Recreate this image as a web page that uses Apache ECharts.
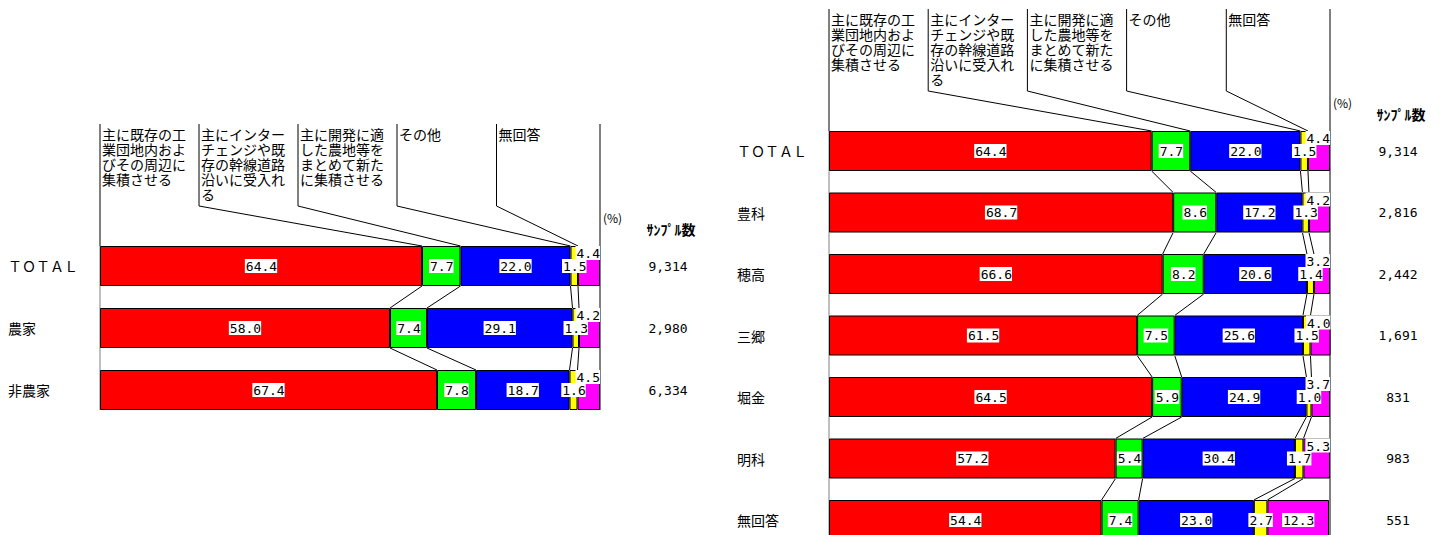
<!DOCTYPE html>
<html>
<head>
<meta charset="utf-8">
<script src="https://cdn.jsdelivr.net/npm/echarts@6.0.0/dist/echarts.min.js"></script>
<style>
html,body{margin:0;padding:0;background:#fff;}
#chart{width:1442px;height:535px;}
</style>
</head>
<body>
<div id="chart"></div>
<script>
// ---- data ----
const answerLabels = [
  '主に既存の工\n業団地内およ\nびその周辺に\n集積させる',
  '主にインター\nチェンジや既\n存の幹線道路\n沿いに受入れ\nる',
  '主に開発に適\nした農地等を\nまとめて新た\nに集積させる',
  'その他',
  '無回答'
];
const colors = ['#FF0000', '#00FF00', '#0000FF', '#FFFF00', '#FF00FF'];

const leftCats = ['ＴＯＴＡＬ', '農家', '非農家'];
const leftRed = [64.4, 58.0, 67.4];
const leftGreen = [7.7, 7.4, 7.8];
const leftBlue = [22.0, 29.1, 18.7];
const leftYellow = [1.5, 1.3, 1.6];
const leftMagenta = [4.4, 4.2, 4.5];
const leftCounts = ['9,314', '2,980', '6,334'];

const rightCats = ['ＴＯＴＡＬ', '豊科', '穂高', '三郷', '堀金', '明科', '無回答'];
const rightRed = [64.4, 68.7, 66.6, 61.5, 64.5, 57.2, 54.4];
const rightGreen = [7.7, 8.6, 8.2, 7.5, 5.9, 5.4, 7.4];
const rightBlue = [22.0, 17.2, 20.6, 25.6, 24.9, 30.4, 23.0];
const rightYellow = [1.5, 1.3, 1.4, 1.5, 1.0, 1.7, 2.7];
const rightMagenta = [4.4, 4.2, 3.2, 4.0, 3.7, 5.3, 12.3];
const rightCounts = ['9,314', '2,816', '2,442', '1,691', '831', '983', '551'];

// ---- layout ----
const headerColPct = [0, 19.8, 39.6, 59.4, 79.3];
const BAR_W = 40;
const CJK = '"Noto Sans CJK JP", sans-serif';
const MONO = '"DejaVu Sans Mono", monospace';

const labelBase = {
  show: true,
  color: '#000',
  backgroundColor: '#fff',
  padding: [1, 0, 0, 1],
  fontFamily: MONO,
  fontSize: 13,
  lineHeight: 13,
  formatter: p => Number(p.value).toFixed(1)
};

function buildPanel(g, cats, sets, counts) {
  const series = [];
  sets.forEach((vals, k) => {
    series.push({
      type: 'bar',
      name: answerLabels[k],
      stack: 'p' + g,
      xAxisIndex: g,
      yAxisIndex: g * 2,
      barWidth: BAR_W,
      z: 2,
      itemStyle: { color: colors[k], borderColor: '#000', borderWidth: 1 },
      label: Object.assign({}, labelBase, { position: 'inside' }),
      data: vals.map(v => {
        if (k === 4 && v < 8) {
          return { value: v, label: { position: 'insideTopRight', distance: 0 } };
        }
        return v;
      })
    });
  });

  const n = cats.length;
  function cumAt(row) {
    const c = [0];
    let s = 0;
    for (let k = 0; k < sets.length; k++) { s += sets[k][row]; c.push(s); }
    return c;
  }

  series.push({
    type: 'custom',
    coordinateSystem: 'cartesian2d',
    xAxisIndex: g,
    yAxisIndex: g * 2,
    clip: false,
    silent: true,
    z: 1,
    data: cats.map((c, i) => [0, i]),
    encode: { x: 0, y: 1 },
    renderItem: function (params, api) {
      const i = params.dataIndex;
      const half = BAR_W / 2;
      const X = (v, row) => api.coord([v, row])[0];
      const yc = api.coord([0, i])[1];
      const top = yc - half, bottom = yc + half;
      const children = [];
      const cur = cumAt(i);
      const line = (pts, color) => ({
        type: 'polyline',
        shape: { points: pts },
        style: { stroke: color || '#000', fill: null, lineWidth: 1 }
      });
      if (i === 0) {
        const hTop = top - 122, sY = top - 40;
        const lastBottom = api.coord([0, n - 1])[1] + half;
        for (let k = 0; k < 5; k++) {
          const cx = X(headerColPct[k], 0);
          const bx = X(cur[k], 0);
          if (k > 0) children.push(line([[cx, hTop], [cx, sY], [bx, top]]));
          children.push({
            type: 'text',
            style: {
              text: answerLabels[k], x: cx + 2, y: hTop + 2,
              fill: '#000', font: '14px ' + CJK, lineHeight: 15,
              align: 'left', verticalAlign: 'top'
            }
          });
        }
        const x0 = X(0, 0), x100 = X(100, 0);
        children.push(line([[x0, hTop], [x0, top]], '#000'));
        children.push(line([[x0, top], [x0, lastBottom]], '#808080'));
        children.push(line([[x100, hTop], [x100, lastBottom]], '#000'));
        children.push({
          type: 'text',
          style: { text: '(%)', x: x100 + 3, y: top - 29, fill: '#000',
            font: '12px ' + CJK, align: 'left', verticalAlign: 'middle' }
        });
        children.push({
          type: 'text',
          style: { text: 'ｻﾝﾌﾟﾙ数', x: x100 + 71, y: top - 17, fill: '#000',
            font: 'bold 14px ' + CJK, align: 'center', verticalAlign: 'middle' }
        });
      }
      if (i < n - 1) {
        const nxt = cumAt(i + 1);
        const nextTop = api.coord([0, i + 1])[1] - half;
        for (let k = 1; k <= 4; k++) {
          children.push(line([[X(cur[k], i), bottom], [X(nxt[k], i + 1), nextTop]]));
        }
      }
      return { type: 'group', children: children };
    }
  });

  const xAxis = { gridIndex: g, type: 'value', min: 0, max: 100, show: false };
  const yAxes = [
    {
      gridIndex: g, type: 'category', data: cats, inverse: true,
      axisLine: { show: false }, axisTick: { show: false }, splitLine: { show: false },
      axisLabel: { align: 'left', margin: 92, color: '#000', fontFamily: CJK, fontSize: 14 }
    },
    {
      gridIndex: g, type: 'category', data: counts, inverse: true, position: 'right',
      axisLine: { show: false }, axisTick: { show: false }, splitLine: { show: false },
      axisLabel: { align: 'center', margin: 68, color: '#000', fontFamily: MONO, fontSize: 13 }
    }
  ];
  return { series, xAxis, yAxes };
}

const left = buildPanel(0, leftCats,
  [leftRed, leftGreen, leftBlue, leftYellow, leftMagenta], leftCounts);
const right = buildPanel(1, rightCats,
  [rightRed, rightGreen, rightBlue, rightYellow, rightMagenta], rightCounts);

const chart = echarts.init(document.getElementById('chart'), null, { renderer: 'svg' });
chart.setOption({
  animation: false,
  backgroundColor: '#fff',
  grid: [
    { left: 100, top: 235, width: 500, height: 186, containLabel: false, outerBoundsMode: 'none' },
    { left: 829, top: 120.25, width: 501, height: 430.5, containLabel: false, outerBoundsMode: 'none' }
  ],
  xAxis: [left.xAxis, right.xAxis],
  yAxis: left.yAxes.concat(right.yAxes),
  series: left.series.concat(right.series)
});
</script>
</body>
</html>
